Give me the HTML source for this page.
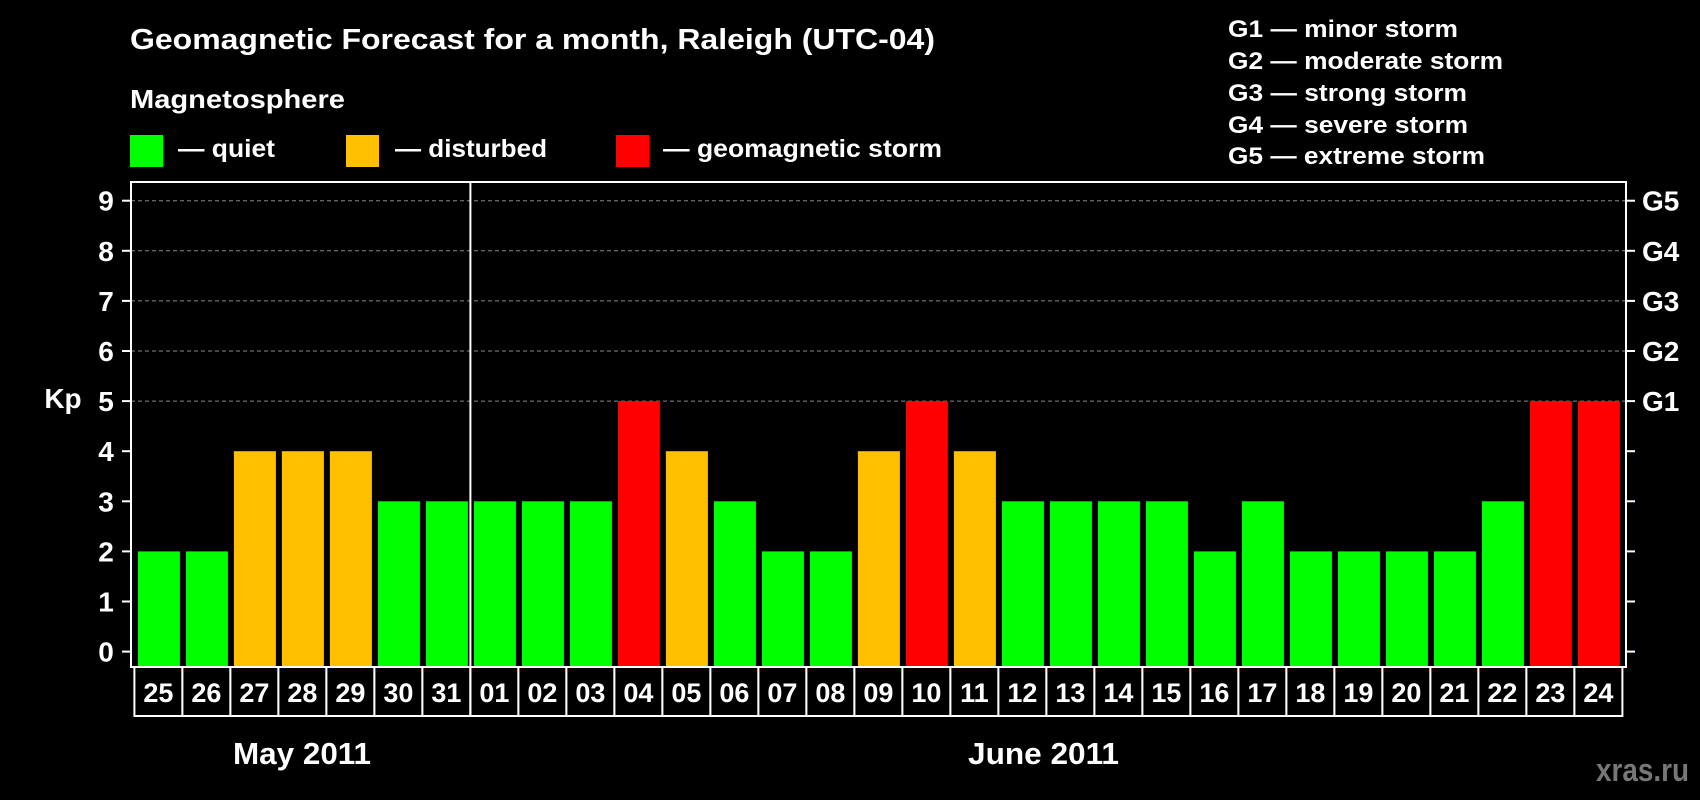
<!DOCTYPE html>
<html><head><meta charset="utf-8"><style>
html,body{margin:0;padding:0;background:#000;}
svg{display:block;font-family:"Liberation Sans",Arial,sans-serif;font-weight:bold;}
</style></head><body>
<svg id="chart" width="1700" height="800" viewBox="0 0 1700 800" xmlns="http://www.w3.org/2000/svg">
<rect x="0" y="0" width="1700" height="800" fill="#000"/>
<text x="130" y="49" fill="#fff" font-size="29" textLength="805" lengthAdjust="spacingAndGlyphs">Geomagnetic Forecast for a month, Raleigh (UTC-04)</text>
<text x="130" y="108" fill="#fff" font-size="26" textLength="215" lengthAdjust="spacingAndGlyphs">Magnetosphere</text>
<g><rect x="130" y="135" width="33" height="32" fill="#00ff00"/><text x="178" y="157" fill="#fff" font-size="25" textLength="97" lengthAdjust="spacingAndGlyphs">— quiet</text></g>
<g><rect x="346" y="135" width="33" height="32" fill="#ffc000"/><text x="395" y="157" fill="#fff" font-size="25" textLength="152" lengthAdjust="spacingAndGlyphs">— disturbed</text></g>
<g><rect x="616" y="135" width="33" height="32" fill="#ff0000"/><text x="663" y="157" fill="#fff" font-size="25" textLength="279" lengthAdjust="spacingAndGlyphs">— geomagnetic storm</text></g>
<g fill="#fff" font-size="24">
<text x="1228" y="37" textLength="230" lengthAdjust="spacingAndGlyphs">G1 — minor storm</text>
<text x="1228" y="69" textLength="275" lengthAdjust="spacingAndGlyphs">G2 — moderate storm</text>
<text x="1228" y="101" textLength="239" lengthAdjust="spacingAndGlyphs">G3 — strong storm</text>
<text x="1228" y="133" textLength="240" lengthAdjust="spacingAndGlyphs">G4 — severe storm</text>
<text x="1228" y="164" textLength="257" lengthAdjust="spacingAndGlyphs">G5 — extreme storm</text>
</g>
<text x="63" y="408" fill="#fff" font-size="28" text-anchor="middle">Kp</text>
<g id="grid"></g>
<g id="bars"></g>
<g id="frame"></g>
<text x="233" y="764" fill="#fff" font-size="31" textLength="138" lengthAdjust="spacingAndGlyphs">May 2011</text>
<text x="968" y="764" fill="#fff" font-size="31" textLength="151" lengthAdjust="spacingAndGlyphs">June 2011</text>
<text x="1596" y="781" fill="#777" font-size="32" textLength="93" lengthAdjust="spacingAndGlyphs">xras.ru</text>
</svg>
<script>
const days = ["25","26","27","28","29","30","31","01","02","03","04","05","06","07","08","09","10","11","12","13","14","15","16","17","18","19","20","21","22","23","24"];
const kpValues = [2,2,4,4,4,3,3,3,3,3,5,4,3,2,2,4,5,4,3,3,3,3,2,3,2,2,2,2,3,5,5];
const yTicks = [0,1,2,3,4,5,6,7,8,9];
const gLabels = ["G1","G2","G3","G4","G5"];
const gLevels = [5,6,7,8,9];

const NS = "http://www.w3.org/2000/svg";
const L = 131, R = 1626, T = 182, B = 667;
const y0 = 651.6, unit = 50.1;
const yScale = v => y0 - unit * v;
const cellX0 = 134.4, cellW = 48, cellH = 49;
const xScale = i => cellX0 + cellW * i;
function mk(tag, attrs, parent) {
  const e = document.createElementNS(NS, tag);
  for (const k in attrs) e.setAttribute(k, attrs[k]);
  parent.appendChild(e);
  return e;
}
function color(v) { return v >= 5 ? "#ff0000" : (v >= 4 ? "#ffc000" : "#00ff00"); }

const grid = document.getElementById("grid");
yTicks.forEach(t => {
  const y = yScale(t);
  if (t >= 5) {
    const g = mk("line", {x1: L, x2: R, y1: y, y2: y, stroke: "#888", "stroke-width": 1, "stroke-dasharray": "4,3"}, grid);
    
    
  }
  const tl = mk("line", {x1: 122, x2: L, y1: y, y2: y, stroke: "#fff", "stroke-width": 2}, grid);
  
  
  const tr = mk("line", {x1: R, x2: 1635, y1: y, y2: y, stroke: "#fff", "stroke-width": 2}, grid);
  
  
  const lab = mk("text", {x: 106, y: y + 10, fill: "#fff", "font-size": 28, "text-anchor": "middle"}, grid);
  lab.textContent = t;
  
  
});
gLabels.forEach((g, i) => {
  const lab = mk("text", {x: 1642, y: yScale(gLevels[i]) + 10, fill: "#fff", "font-size": 28}, grid);
  lab.textContent = g;
  
  
});

const bars = document.getElementById("bars");
kpValues.forEach((v, i) => {
  const x = xScale(i) + 3.5;
  const y = yScale(v);
  const r = mk("rect", {x: x, y: y, width: 42, height: B - y, fill: color(v)}, bars);
  
  
});

const frame = document.getElementById("frame");
const fr = mk("rect", {x: L, y: T, width: R - L, height: B - T, fill: "none", stroke: "#fff", "stroke-width": 2}, frame);


days.forEach((d, i) => {
  const x = xScale(i);
  const c = mk("rect", {x: x, y: B, width: cellW, height: cellH, fill: "#000", stroke: "#fff", "stroke-width": 2}, frame);
  
  
  const t = mk("text", {x: x + cellW / 2, y: B + 35, fill: "#fff", "font-size": 27, "text-anchor": "middle"}, frame);
  t.textContent = d;
  
  
});
const monthIdx = days.indexOf("01");
const dx = xScale(monthIdx);
const dv = mk("line", {x1: dx, x2: dx, y1: T, y2: B + cellH, stroke: "#fff", "stroke-width": 2}, frame);


</script>
</body></html>
